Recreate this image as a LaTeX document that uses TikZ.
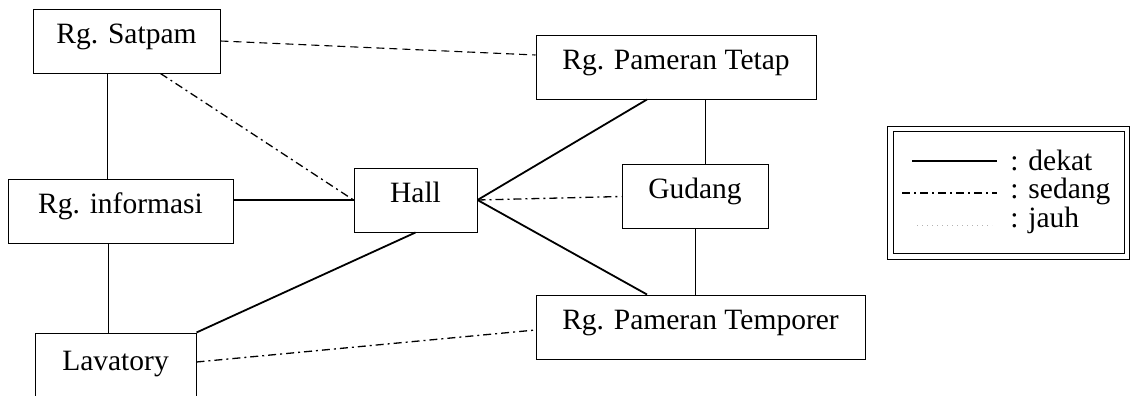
\documentclass[tikz,border=0pt]{standalone}
\usepackage{fontspec}
\setmainfont{Liberation Serif}
\begin{document}
\begin{tikzpicture}[x=0.5pt, y=-0.5pt,
  every node/.style={font=\fontsize{14.75}{17}\selectfont},
  room/.style={draw, line width=0.5pt, inner sep=0pt, text height=17pt, text depth=15pt},
  tie/.style={line width=0.5pt},
  dekat/.style={line width=0.9pt},
  sedang/.style={line width=0.65pt, dash pattern=on 4pt off 2pt on 1pt off 2pt},
  putus/.style={line width=0.55pt, dash pattern=on 4pt off 2.5pt},
  jauh/.style={line width=0.5pt, gray!60, dotted}]
  \useasboundingbox (0,0) rectangle (1131,396);
  \clip (0,0) rectangle (1131,396);

  % rooms
  \node[room, minimum width=93.5pt] (satpam) at (126.5,41) {Rg. Satpam};
  \node[room, minimum width=140pt] (tetap) at (676,67) {Rg. Pameran Tetap};
  \node[room, minimum width=112.5pt] (info) at (120.5,211.5) {Rg. informasi};
  \node[room, minimum width=61.5pt] (hall) at (415.5,200) {Hall};
  \node[room, minimum width=73pt] (gudang) at (695,196.5) {Gudang};
  \node[room, minimum width=164.5pt] (temporer) at (700.5,327) {Rg. Pameran Temporer};
  \node[room, minimum width=80.5pt, text height=18.5pt, text depth=21.5pt] (lavatory) at (115.5,373) {Lavatory};

  % straight ties between stacked rooms
  \coordinate (satpamfoot) at ([xshift=-9.75pt]satpam.south);
  \coordinate (infofoot) at ([xshift=-6.25pt]info.south);
  \coordinate (tetapfoot) at ([xshift=14.5pt]tetap.south);
  \draw[tie] (satpamfoot) -- (satpamfoot |- info.north);
  \draw[tie] (infofoot) -- (infofoot |- lavatory.north);
  \draw[tie] (tetapfoot) -- (tetapfoot |- gudang.north);
  \draw[tie] (gudang.south) -- (gudang.south |- temporer.north);

  % dekat
  \draw[dekat] (info.east |- hall.west) -- (hall.west);
  \draw[dekat] (hall.east) -- ([xshift=-14.5pt]tetap.south);
  \draw[dekat] (hall.east) -- ([xshift=-26.75pt]temporer.north);
  \draw[dekat] (hall.south) -- (lavatory.north east);

  % sedang
  \draw[sedang] ([xshift=17pt]satpam.south) -- (hall.west);
  \draw[sedang] (hall.east) -- (gudang.west);
  \draw[sedang] ([yshift=5.5pt]lavatory.east) -- ([yshift=-1.5pt]temporer.west);
  \draw[putus] (satpam.east) -- ([yshift=6pt]tetap.west);

  % legend
  \node[draw, double, double distance=2.2pt, line width=0.5pt, inner sep=0pt,
        minimum width=118.25pt, minimum height=63.75pt] (legend) at (1008.75,192.75) {};
  \node[anchor=base west, inner sep=0pt] (lgdekat) at (1010,170) {: dekat};
  \node[anchor=base west, inner sep=0pt] (lgsedang) at (1010,198.5) {: sedang};
  \node[anchor=base west, inner sep=0pt] (lgjauh) at (1010,227) {: jauh};
  \draw[dekat, line width=0.7pt] ([xshift=-49pt,yshift=4.5pt]lgdekat.base west) -- ([xshift=-6.5pt,yshift=4.5pt]lgdekat.base west);
  \draw[sedang] ([xshift=-54pt,yshift=2.75pt]lgsedang.base west) -- ([xshift=-6.5pt,yshift=2.75pt]lgsedang.base west);
  \draw[jauh] ([xshift=-46.5pt,yshift=1pt]lgjauh.base west) -- ([xshift=-9pt,yshift=1pt]lgjauh.base west);
\end{tikzpicture}
\end{document}
